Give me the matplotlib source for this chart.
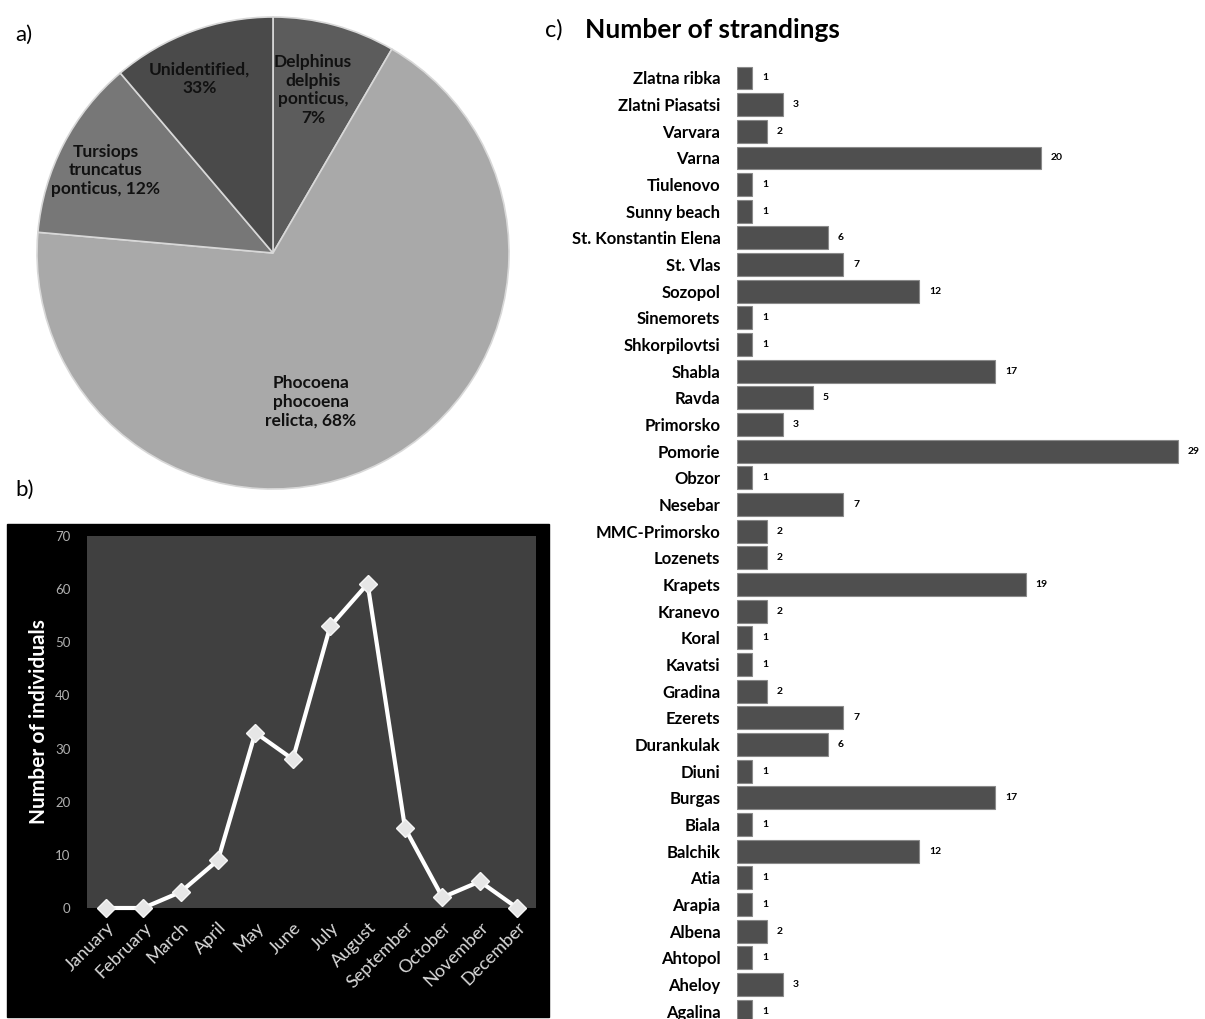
import matplotlib
matplotlib.use('Agg')
import matplotlib.pyplot as plt
from matplotlib.patches import Rectangle

W, H = 1205, 1019
plt.rcParams['font.family'] = ['Lato', 'DejaVu Sans']

# a) species composition (slice sizes read from the drawn angles, labels as printed)
species_labels = ['Delphinus\ndelphis\nponticus,\n7%',
                  'Phocoena\nphocoena\nrelicta, 68%',
                  'Tursiops\ntruncatus\nponticus, 12%',
                  'Unidentified,\n33%']
species_share = [8.4, 68.0, 12.4, 11.2]
species_colors = ['#5c5c5c', '#a9a9a9', '#777777', '#4a4a4a']
label_pos = [(0.17, 0.69), (0.16, -0.63), (-0.71, 0.35), (-0.31, 0.74)]

# b) individuals per month
months = ['January', 'February', 'March', 'April', 'May', 'June', 'July',
          'August', 'September', 'October', 'November', 'December']
individuals = [0, 0, 3, 9, 33, 28, 53, 61, 15, 2, 5, 0]

# c) strandings per site
sites = ['Zlatna ribka', 'Zlatni Piasatsi', 'Varvara', 'Varna', 'Tiulenovo',
         'Sunny beach', 'St. Konstantin Elena', 'St. Vlas', 'Sozopol',
         'Sinemorets', 'Shkorpilovtsi', 'Shabla', 'Ravda', 'Primorsko',
         'Pomorie', 'Obzor', 'Nesebar', 'MMC-Primorsko', 'Lozenets', 'Krapets',
         'Kranevo', 'Koral', 'Kavatsi', 'Gradina', 'Ezerets', 'Durankulak',
         'Diuni', 'Burgas', 'Biala', 'Balchik', 'Atia', 'Arapia', 'Albena',
         'Ahtopol', 'Aheloy', 'Agalina']
strandings = [1, 3, 2, 20, 1, 1, 6, 7, 12, 1, 1, 17, 5, 3, 29, 1, 7, 2, 2, 19,
              2, 1, 1, 2, 7, 6, 1, 17, 1, 12, 1, 1, 2, 1, 3, 1]


def px_box(left, top, right, bottom):
    return [left / W, 1 - bottom / H, (right - left) / W, (bottom - top) / H]


fig = plt.figure(figsize=(W / 100, H / 100), dpi=100)

# ---- a) pie
ax = fig.add_axes(px_box(37, 17, 509, 489))
ax.pie(species_share, colors=species_colors, startangle=90, counterclock=False,
       radius=1, wedgeprops=dict(edgecolor='#d8d8d8', linewidth=1.2))
ax.set_xlim(-1, 1)
ax.set_ylim(-1, 1)
for txt, (x, y) in zip(species_labels, label_pos):
    ax.text(x, y, txt, ha='center', va='center', fontsize=12.5,
            fontweight='bold', color='#111111', linespacing=1.2)
fig.text(15 / W, 1 - 35 / H, 'a)', fontsize=16, va='center')

# ---- b) line chart on black panel
fig.text(15 / W, 1 - 490 / H, 'b)', fontsize=16, va='center')
fig.patches.append(Rectangle((7 / W, 1 - 1017 / H), (549 - 7) / W, (1017 - 524) / H,
                             transform=fig.transFigure, color='black', zorder=-5))
ax = fig.add_axes(px_box(87, 536, 536, 908))
ax.set_facecolor('#404040')
x = range(len(months))
ax.plot(x, individuals, color='white', lw=3, marker='D', markersize=9,
        markerfacecolor='#e6e6e6', markeredgecolor='#f5f5f5', clip_on=False, zorder=3)
ax.set_xlim(-0.5, len(months) - 0.5)
ax.set_ylim(0, 70)
ax.set_yticks(range(0, 71, 10))
ax.set_xticks(list(x))
ax.set_xticklabels(months, rotation=45, ha='right', rotation_mode='anchor',
                   color='#d9d9d9', fontsize=13)
ax.tick_params(axis='y', colors='#b0b0b0', labelsize=9.5, length=0, pad=12)
ax.tick_params(axis='x', length=0, pad=8)
for s in ax.spines.values():
    s.set_visible(False)
ax.set_ylabel('Number of individuals', color='white', fontsize=15,
              fontweight='bold', labelpad=4)

# ---- c) horizontal bars
fig.text(545 / W, 1 - 30 / H, 'c)', fontsize=17, va='center')
fig.text(585 / W, 1 - 30 / H, 'Number of strandings', fontsize=19,
         fontweight='bold', va='center')
row_h = 26.66
top_px = 78 - row_h / 2
ax = fig.add_axes(px_box(737, top_px, W, H))
ypos = list(range(len(sites)))
ax.barh(ypos, strandings, height=0.86, color='#4f4f4f', edgecolor='#8a8a8a',
        linewidth=0.8)
ax.set_xlim(0, (W - 737) / 15.2)
ax.set_ylim((H - top_px) / row_h - 0.5, -0.5)
ax.set_yticks(ypos)
ax.set_yticklabels(sites, fontsize=12, fontweight='bold')
ax.tick_params(axis='y', length=0, pad=12)
ax.set_xticks([])
for s in ax.spines.values():
    s.set_visible(False)
for yy, v in zip(ypos, strandings):
    ax.annotate(str(v), (v, yy), xytext=(7, 0), textcoords='offset points',
                va='center', fontsize=7.5, fontweight='bold')

fig.savefig('out.png', dpi=100)
